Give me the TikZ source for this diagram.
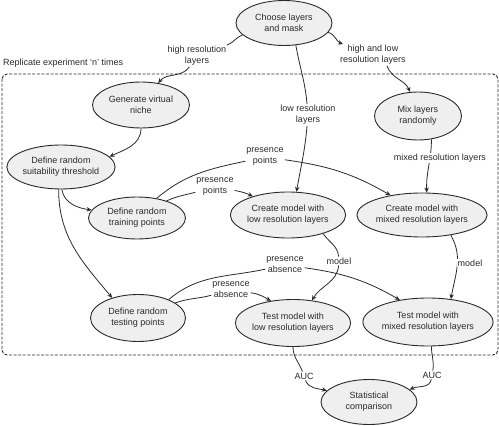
\documentclass[tikz,border=0pt]{standalone}
\usepackage{fontspec}
\setmainfont{Liberation Sans}
\usetikzlibrary{arrows.meta,shapes.geometric}
\definecolor{nodefill}{HTML}{EFEFEF}
\definecolor{ink}{HTML}{2A2A2A}
\begin{document}
\begin{tikzpicture}[x=1pt,y=1pt,
  every node/.style={font=\fontsize{9}{11}\selectfont, text=ink},
  proc/.style={ellipse, draw=ink, fill=nodefill, line width=0.9pt, inner sep=0pt, align=center},
  lab/.style={align=center, inner sep=1pt},
  wlab/.style={align=center, inner sep=1pt, fill=white},
  arr/.style={-{Stealth[length=5pt,width=4.5pt]}, line width=0.8pt, draw=ink},
  box/.style={draw=ink, line width=0.9pt, dash pattern=on 3pt off 1.6pt, rounded corners=5pt},
]
\useasboundingbox (0,0) rectangle (499,426);

% replicate frame
\draw[box] (2,352) rectangle (498,71);
\node[anchor=west, inner sep=0pt] (rep) at (3,363) {Replicate experiment `n' times};

% process nodes
\node[proc, minimum width=96pt, minimum height=45pt] (choose) at (284,403) {Choose layers\\and mask};
\node[proc, minimum width=97pt, minimum height=46pt] (gen) at (141,321) {Generate virtual\\niche};
\node[proc, minimum width=97pt, minimum height=44pt] (thresh) at (61,259) {Define random\\suitability threshold};
\node[proc, minimum width=97pt, minimum height=42pt] (train) at (137,208) {Define random\\training points};
\node[proc, minimum width=95pt, minimum height=47pt] (testing) at (138,108) {Define random\\testing points};
\node[proc, minimum width=102pt, minimum height=46pt] (createlow) at (288,211) {Create model with\\low resolution layers};
\node[proc, minimum width=87pt, minimum height=48pt] (mix) at (418,310) {Mix layers\\randomly};
\node[proc, minimum width=106pt, minimum height=44pt] (createmix) at (422,211) {Create model with\\mixed resolution layers};
\node[proc, minimum width=103pt, minimum height=47pt] (testlow) at (293,103) {Test model with\\low resolution layers};
\node[proc, minimum width=108pt, minimum height=48pt] (testmix) at (428,104) {Test model with\\mixed resolution layers};
\node[proc, minimum width=96pt, minimum height=45pt] (stat) at (369,24) {Statistical\\comparison};

% label nodes
\node[lab] (L1) at (197,370) {high resolution\\layers};
\node[lab] (L2) at (373,371) {high and low\\resolution layers};
\node[lab] (L3) at (308,311) {low resolution\\layers};
\node[lab] (L4) at (215,239) {presence\\points};
\node[lab] (L5) at (265,269) {presence\\points};
\node[lab] (L7) at (339,165) {model};
\node[lab] (L9) at (231,136) {presence\\absence};
\node[lab] (L10) at (285,161) {presence\\absence};
\node[lab] (L11) at (304,50) {AUC};
\node[lab] (L12) at (432,51) {AUC};

% connectors
\draw[arr] (choose.196) to[out=200,in=20] (L1) to[out=235,in=50] (gen.52);
\draw[arr] (choose.-12) to[out=-15,in=160] (L2);
\draw[arr] ([xshift=14pt]L2.south) to[out=-70,in=115] (mix.108);
\draw[arr] (choose.-62) to[out=-80,in=95] (L3) to[out=-95,in=80] (createlow.70);
\draw[arr] (gen.-90) to[out=-90,in=25] (thresh.12);
\draw[arr] (thresh.-88) to[out=-80,in=172] (train.170);
\draw[arr] (thresh.-96) to[out=-90,in=130] (testing.142);
\draw[arr] (train.30) to[out=25,in=195] (L4) to[out=-10,in=155] (createlow.152);
\draw[arr] (train.45) to[out=40,in=192] (L5) to[out=-8,in=150] (createmix.148);
\draw[arr] (mix.-60) to[out=-90,in=92] (createmix.78);
\node[wlab] (L6) at (440,268) {mixed resolution layers};
\draw[arr] (createlow.-28) to[out=-55,in=95] (L7) to[out=-95,in=60] (testlow.50);
\draw[arr] (createmix.-35) to[out=-60,in=80] (testmix.45);
\node[wlab] (L8) at (470,163) {model};
\draw[arr] (testing.22) to[out=20,in=195] (L9) to[out=-8,in=150] (testlow.135);
\draw[arr] (testing.31) to[out=40,in=192] (L10) to[out=-8,in=150] (testmix.142);
\draw[arr] (testlow.-90) to[out=-90,in=110] (L11) to[out=-70,in=165] (stat.165);
\draw[arr] (testmix.-82) to[out=-90,in=80] (L12) to[out=-100,in=25] (stat.17);
\end{tikzpicture}
\end{document}
